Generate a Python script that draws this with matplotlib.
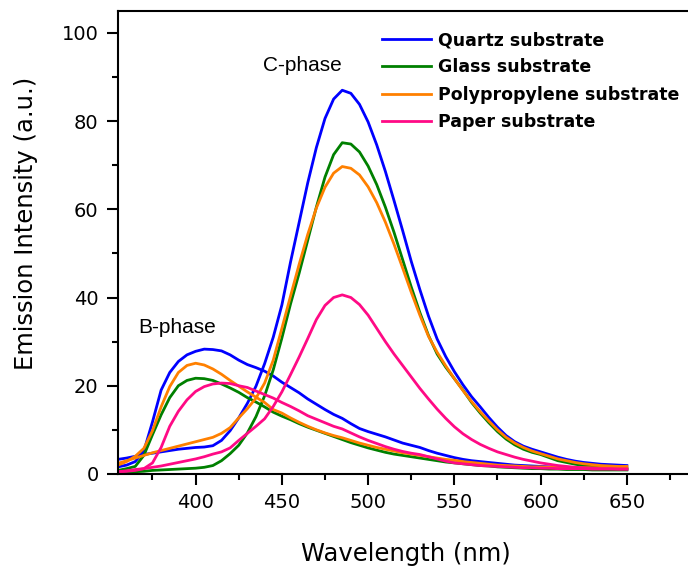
import numpy as np
import matplotlib
matplotlib.use("Agg")
import matplotlib.pyplot as plt
from matplotlib.ticker import MultipleLocator, FixedLocator

plt.rcParams['font.family'] = ['DejaVu Sans']

# wavelength grid of the spectra (nm)
wl = np.arange(355, 655, 5)

# C-phase emission (main band near 485 nm)
quartz_c = [3.3, 3.6, 4.0, 4.4, 4.7, 5.0, 5.3, 5.6, 5.8, 6.0,
            6.1, 6.4, 7.6, 9.8, 12.7, 16.0, 19.9, 25.0, 31.0, 38.3,
            48.0, 57.0, 66.0, 74.0, 80.6, 85.0, 87.0, 86.3, 83.8, 79.8,
            74.6, 68.6, 62.0, 55.2, 48.2, 41.8, 35.8, 30.6, 26.6, 23.2,
            20.2, 17.5, 15.2, 12.8, 10.6, 8.7, 7.3, 6.3, 5.6, 5.0,
            4.4, 3.8, 3.3, 2.9, 2.6, 2.4, 2.2, 2.1, 2.0, 1.9]
glass_c = [0.3, 0.4, 0.5, 0.6, 0.8, 0.9, 1.0, 1.1, 1.2, 1.3,
           1.5, 1.9, 3.0, 4.6, 6.5, 9.3, 13.0, 17.7, 23.6, 30.8,
           38.5, 45.5, 53.0, 60.5, 67.3, 72.4, 75.1, 74.8, 73.0, 69.8,
           65.6, 60.5, 54.8, 48.6, 42.4, 36.6, 31.4, 27.2, 24.2, 21.6,
           19.0, 16.2, 13.8, 11.6, 9.6, 7.9, 6.6, 5.6, 4.9, 4.4,
           3.7, 3.0, 2.6, 2.2, 1.9, 1.7, 1.5, 1.4, 1.3, 1.3]
pp_c = [2.4, 3.0, 3.6, 4.2, 4.8, 5.3, 5.8, 6.3, 6.8, 7.3,
        7.8, 8.3, 9.2, 10.5, 12.7, 14.8, 17.2, 20.6, 25.8, 33.0,
        40.3, 47.5, 54.3, 60.3, 65.0, 68.2, 69.7, 69.3, 67.8, 65.1,
        61.5, 57.1, 52.1, 46.7, 41.2, 36.0, 31.2, 27.6, 24.5, 21.6,
        18.9, 16.4, 14.1, 12.0, 10.0, 8.3, 7.0, 6.0, 5.2, 4.6,
        4.0, 3.4, 3.0, 2.6, 2.3, 2.1, 1.9, 1.8, 1.7, 1.7]
paper_c = [0.5, 0.7, 1.0, 1.2, 1.5, 1.8, 2.2, 2.6, 3.0, 3.4,
           3.9, 4.5, 5.0, 5.9, 7.6, 9.2, 10.8, 12.5, 15.3, 18.6,
           22.5, 26.5, 30.7, 35.0, 38.2, 40.0, 40.6, 40.0, 38.4, 36.0,
           33.0, 30.0, 27.2, 24.6, 22.0, 19.4, 17.0, 14.7, 12.6, 10.7,
           9.1, 7.8, 6.7, 5.8, 5.0, 4.4, 3.8, 3.3, 2.9, 2.5,
           2.2, 1.9, 1.7, 1.5, 1.4, 1.3, 1.2, 1.2, 1.1, 1.1]

# B-phase emission (band near 400 nm)
quartz_b = [1.6, 2.0, 2.8, 5.2, 11.8, 19.0, 23.0, 25.5, 27.0, 27.8,
            28.3, 28.2, 27.9, 27.0, 25.8, 24.8, 24.1, 23.3, 22.2, 20.8,
            19.6, 18.4, 17.0, 15.8, 14.6, 13.5, 12.6, 11.4, 10.3, 9.6,
            9.0, 8.4, 7.7, 7.0, 6.5, 6.0, 5.3, 4.7, 4.2, 3.7,
            3.3, 3.0, 2.8, 2.6, 2.4, 2.2, 2.0, 1.9, 1.8, 1.7,
            1.6, 1.5, 1.4, 1.3, 1.3, 1.2, 1.2, 1.1, 1.1, 1.0]
glass_b = [0.8, 1.2, 1.7, 4.2, 8.9, 13.4, 17.3, 20.0, 21.2, 21.7,
           21.6, 21.2, 20.4, 19.5, 18.5, 17.3, 16.3, 15.2, 14.0, 13.1,
           12.3, 11.4, 10.6, 9.9, 9.2, 8.5, 7.8, 7.1, 6.5, 5.9,
           5.4, 4.9, 4.5, 4.2, 3.9, 3.6, 3.3, 3.0, 2.7, 2.5,
           2.3, 2.1, 1.9, 1.8, 1.6, 1.5, 1.4, 1.3, 1.2, 1.2,
           1.1, 1.1, 1.0, 1.0, 1.0, 0.9, 0.9, 0.9, 0.9, 0.9]
pp_b = [2.0, 2.8, 4.0, 5.8, 9.8, 15.2, 19.8, 23.0, 24.6, 25.1,
        24.7, 23.8, 22.6, 21.2, 19.9, 18.6, 17.4, 16.2, 14.6, 13.8,
        12.7, 11.7, 10.8, 10.0, 9.3, 8.7, 8.2, 7.6, 7.0, 6.5,
        6.0, 5.6, 5.2, 4.8, 4.5, 4.2, 3.9, 3.6, 3.3, 3.1,
        2.8, 2.6, 2.4, 2.2, 2.0, 1.9, 1.8, 1.7, 1.6, 1.6,
        1.5, 1.5, 1.5, 1.4, 1.4, 1.4, 1.4, 1.3, 1.3, 1.3]
paper_b = [0.5, 0.6, 0.8, 1.2, 2.5, 6.0, 10.8, 14.2, 16.8, 18.7,
           19.8, 20.4, 20.6, 20.5, 20.0, 19.6, 18.8, 18.0, 17.2, 16.2,
           15.3, 14.3, 13.2, 12.4, 11.6, 10.8, 10.2, 9.3, 8.4, 7.6,
           6.9, 6.2, 5.6, 5.1, 4.7, 4.4, 3.9, 3.4, 2.9, 2.5,
           2.3, 2.1, 1.9, 1.8, 1.7, 1.6, 1.5, 1.4, 1.4, 1.3,
           1.3, 1.2, 1.2, 1.2, 1.2, 1.1, 1.1, 1.1, 1.1, 1.1]

labels = ["Quartz substrate", "Glass substrate",
          "Polypropylene substrate", "Paper substrate"]
colors = ["#0000ff", "#008000", "#ff8000", "#ff0a85"]
xticks = [400, 450, 500, 550, 600, 650]

fig = plt.figure(figsize=(6.88, 5.71), dpi=100)
# right edge runs past the canvas, so no right spine is visible
ax = fig.add_axes([0.1715, 0.170, 0.865, 0.811])

lw = 2.0
for yb, yc, c, lab in zip([quartz_b, glass_b, pp_b, paper_b],
                          [quartz_c, glass_c, pp_c, paper_c], colors, labels):
    ax.plot(wl, yb, color=c, lw=lw, solid_joinstyle='round')
    ax.plot(wl, yc, color=c, lw=lw, solid_joinstyle='round', label=lab)

ax.set_xlim(355, 700)
ax.set_ylim(0, 105)
ax.xaxis.set_major_locator(FixedLocator(xticks))
ax.xaxis.set_minor_locator(MultipleLocator(25))
ax.yaxis.set_major_locator(MultipleLocator(20))
ax.yaxis.set_minor_locator(MultipleLocator(10))

for s in ax.spines.values():
    s.set_linewidth(1.5)
ax.tick_params(which='major', direction='out', length=8, width=1.5,
               labelsize=14)
ax.tick_params(which='minor', direction='out', length=4.5, width=1.5)
ax.tick_params(axis='x', which='major', pad=6)
ax.tick_params(axis='y', which='major', pad=6)

ax.set_xlabel("Wavelength (nm)", fontsize=17.5, va='center')
ax.xaxis.set_label_coords(0.484, -0.173)
ax.set_ylabel("Emission Intensity (a.u.)", fontsize=17.5, va='center')
ax.yaxis.set_label_coords(-0.155, 0.54)

ax.text(462, 92.5, "C-phase", fontsize=15, family='Liberation Sans',
        ha='center', va='center')
ax.text(389, 33.1, "B-phase", fontsize=15, family='Liberation Sans',
        ha='center', va='center')

leg = ax.legend(loc='upper left', bbox_to_anchor=(382 / 688, 1 - 31 / 571),
                bbox_transform=fig.transFigure, frameon=False,
                prop={'weight': 'bold', 'size': 12.5},
                handlelength=2.8, handletextpad=0.4, labelspacing=0.54,
                borderpad=0, borderaxespad=0)

fig.savefig("out.png", dpi=100)
